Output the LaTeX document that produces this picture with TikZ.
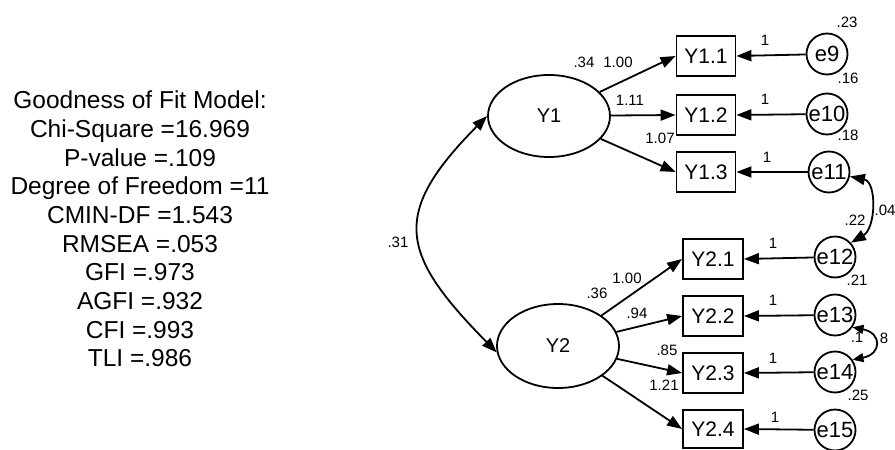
\documentclass[tikz,border=0pt]{standalone}
\usepackage{fontspec}
\setmainfont{Liberation Sans}
\usetikzlibrary{arrows.meta,shapes.geometric}
\begin{document}
\begin{tikzpicture}[x=1pt,y=-1pt,
  lat/.style={draw,ellipse,line width=1.8pt,minimum width=122pt,minimum height=82pt,inner sep=0pt,font=\fontsize{20}{20}\selectfont},
  obs/.style={draw,rectangle,line width=1.8pt,minimum width=59pt,minimum height=40pt,inner sep=0pt,font=\fontsize{21}{21}\selectfont},
  err/.style={draw,circle,line width=1.8pt,minimum size=41pt,inner sep=0pt,font=\fontsize{22}{22}\selectfont},
  lbl/.style={inner sep=0pt,font=\fontsize{15}{15}\selectfont},
  arr/.style={line width=1.8pt,-{Triangle[length=15pt,width=11pt]}},
  darr/.style={line width=1.8pt,{Triangle[length=15pt,width=11pt]}-{Triangle[length=15pt,width=11pt]}},
  sarr/.style={line width=1.8pt,{Triangle[length=11pt,width=9pt]}-{Triangle[length=11pt,width=9pt]}},
]
\useasboundingbox (0,0) rectangle (895,450);

% fit statistics
\node[align=center,inner sep=0pt,font=\fontsize{24.5}{28.7}\selectfont] (fit) at (140,229)
 {Goodness of Fit Model:\\Chi-Square =16.969\\P-value =.109\\Degree of Freedom =11\\CMIN-DF =1.543\\RMSEA =.053\\GFI =.973\\AGFI =.932\\CFI =.993\\TLI =.986};

% latent variables
\node[lat] (Y1) at (549,116) {Y1};
\node[lat,minimum height=84pt] (Y2) at (558,346) {Y2};

% observed
\node[obs] (Y11) at (706,56) {Y1.1};
\node[obs] (Y12) at (706,115) {Y1.2};
\node[obs] (Y13) at (706,172) {Y1.3};
\node[obs,minimum width=60pt] (Y21) at (713,259) {Y2.1};
\node[obs,minimum width=60pt] (Y22) at (713,316) {Y2.2};
\node[obs,minimum width=60pt] (Y23) at (713,373) {Y2.3};
\node[obs,minimum width=60pt,minimum height=38pt] (Y24) at (713,429) {Y2.4};

% errors
\node[err] (e9) at (827,54) {e9};
\node[err] (e10) at (827,114) {e10};
\node[err] (e11) at (829,172) {e11};
\node[err] (e12) at (835,257) {e12};
\node[err] (e13) at (835,315) {e13};
\node[err] (e14) at (835,372) {e14};
\node[err] (e15) at (835,430) {e15};

% loadings
\draw[arr] (Y1) -- (Y11.west);
\draw[arr] (Y1) -- (Y12.west);
\draw[arr] (Y1) -- (Y13.west);
\draw[arr] (Y2) -- (Y21.west);
\draw[arr] (Y2) -- (Y22.west);
\draw[arr] (Y2) -- (Y23.west);
\draw[arr] (Y2) -- (Y24.west);

% error paths
\foreach \e/\y in {e9/Y11,e10/Y12,e11/Y13,e12/Y21,e13/Y22,e14/Y23,e15/Y24}
  \draw[arr] (\e) -- (\y.east);

% covariances
\draw[darr] (Y1.west) .. controls (390,214) and (400,254) .. (Y2.186);
\draw[darr] (e11.-12) .. controls (877,182) and (876,228) .. (e12.42);
\draw[sarr] (e13.-35) .. controls (882,333) and (882,354) .. (e14.35);

% labels
\node[lbl] (l1) at (765,40) {1};
\node[lbl] (l2) at (765,99) {1};
\node[lbl] (l3) at (767,157) {1};
\node[lbl] (l4) at (773,243) {1};
\node[lbl] (l5) at (773,300) {1};
\node[lbl] (l6) at (773,358) {1};
\node[lbl] (l7) at (775,417) {1};

\node[lbl] (v34) at (584,62) {.34};
\node[lbl] (w100a) at (618,62) {1.00};
\node[lbl] (w111) at (630,100) {1.11};
\node[lbl] (w107) at (660,138) {1.07};
\node[lbl] (v23) at (847,22) {.23};
\node[lbl] (v16) at (848,78) {.16};
\node[lbl] (v18) at (848,135) {.18};
\node[lbl] (v22) at (855,220) {.22};
\node[lbl] (c04) at (885,210) {.04};
\node[lbl] (v21) at (857,280) {.21};
\node[lbl] (c1) at (857,337) {.1};
\node[lbl] (c8) at (884,338) {8};
\node[lbl] (v25) at (858,395) {.25};
\node[lbl] (v36) at (597,293) {.36};
\node[lbl] (w100b) at (627,278) {1.00};
\node[lbl] (w94) at (637,313) {.94};
\node[lbl] (w85) at (667,350) {.85};
\node[lbl] (w121) at (664,385) {1.21};
\node[lbl] (c31) at (398,242) {.31};
\end{tikzpicture}
\end{document}
